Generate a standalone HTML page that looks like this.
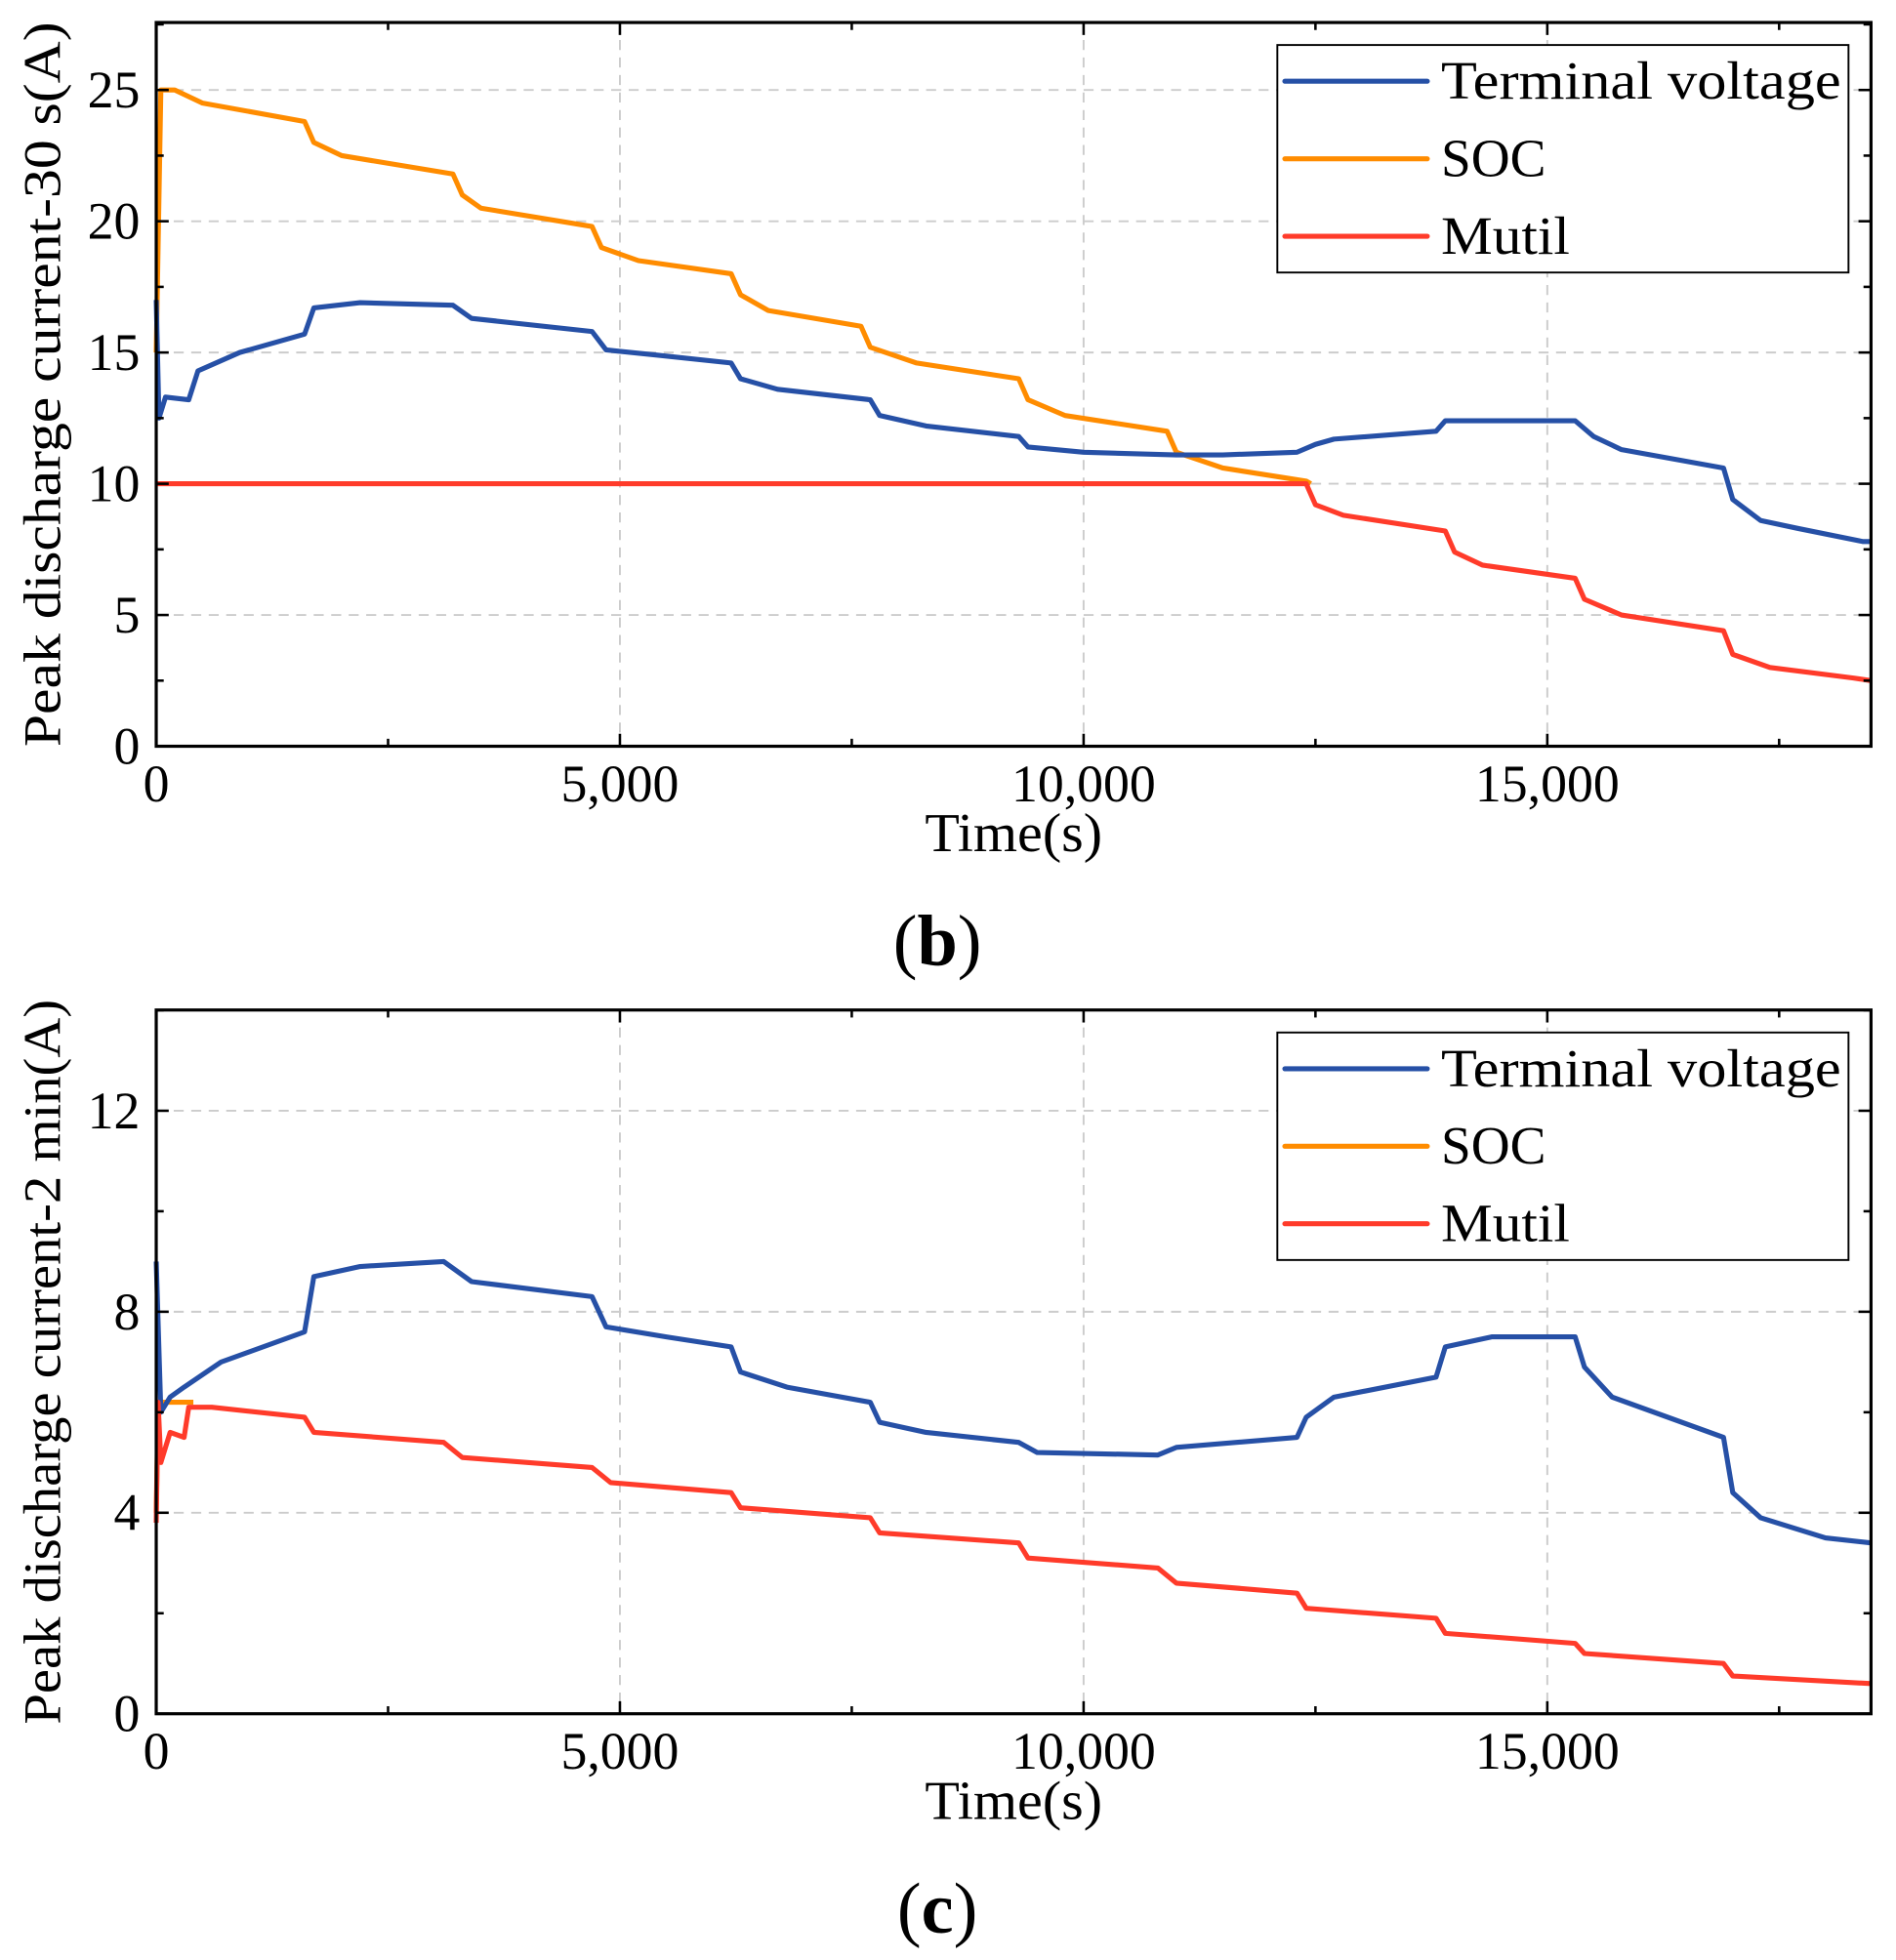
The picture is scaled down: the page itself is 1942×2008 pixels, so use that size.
<!DOCTYPE html>
<html><head><meta charset="utf-8"><style>html,body{margin:0;padding:0;background:#fff}svg{display:block}text{font-family:"Liberation Serif",serif;fill:#000}</style></head>
<body>
<svg id="s" width="1942" height="2008" viewBox="0 0 1517 1568" preserveAspectRatio="none" xmlns="http://www.w3.org/2000/svg"></svg>
<script>
const NS="http://www.w3.org/2000/svg",S=document.getElementById('s');
function el(t,a,txt){const e=document.createElementNS(NS,t);for(const k in a)e.setAttribute(k,a[k]);if(txt!==undefined)e.textContent=txt;S.appendChild(e);return e;}
const L=125,R=1497,X=t=>L+t*0.0742;
function panel(top,bot,ymax,ystep,yminor,Y,ylabel,series,tag){
  for(let v=ystep;v<=ymax+1e-9;v+=ystep){const y=Y(v);if(y>top+2)el('line',{x1:L,x2:R,y1:y,y2:y,stroke:'#ccc','stroke-width':1.5,'stroke-dasharray':'8,6'});}
  for(let t=5000;t<=15000;t+=5000)el('line',{x1:X(t),x2:X(t),y1:top,y2:bot,stroke:'#ccc','stroke-width':1.5,'stroke-dasharray':'8,6'});
  for(const [c,d] of series){let p=d.map((q,i)=>(i?'L':'M')+X(q[0]).toFixed(1)+','+Y(q[1]).toFixed(1)).join('');el('path',{d:p,fill:'none',stroke:c,'stroke-width':4,'stroke-linejoin':'round'});}
  el('rect',{x:L,y:top,width:R-L,height:bot-top,fill:'none',stroke:'#000','stroke-width':2.5});
  for(let v=0;v<=ymax+1e-9;v+=yminor){const y=Y(v),big=Math.abs(v/ystep-Math.round(v/ystep))<1e-6,l=big?10:6;
    el('line',{x1:L,x2:L+l,y1:y,y2:y,stroke:'#000','stroke-width':2});el('line',{x1:R,x2:R-l,y1:y,y2:y,stroke:'#000','stroke-width':2});
    if(big)el('text',{x:112,y:y+14,'text-anchor':'end','font-size':42},String(Math.round(v)));}
  for(let t=0;t<=18490;t+=2500){const x=X(t),l=t%5000?6:10;
    el('line',{x1:x,x2:x,y1:bot,y2:bot-l,stroke:'#000','stroke-width':2});el('line',{x1:x,x2:x,y1:top,y2:top+l,stroke:'#000','stroke-width':2});
    if(t%5000==0)el('text',{x:x,y:bot+44,'text-anchor':'middle','font-size':42},t?t.toLocaleString('en-US'):'0');}
  el('text',{x:811,y:bot+84,'text-anchor':'middle','font-size':44,textLength:142,lengthAdjust:'spacingAndGlyphs'},'Time(s)');
  el('text',{x:0,y:0,'text-anchor':'middle','font-size':42,textLength:580,lengthAdjust:'spacingAndGlyphs',transform:`translate(48,${(top+bot)/2}) rotate(-90)`},ylabel);
  const t=el('text',{x:750,y:bot+175,'text-anchor':'middle','font-size':58});t.innerHTML='(<tspan font-weight="bold">'+tag+'</tspan>)';
  const ly=top+18;el('rect',{x:1022,y:ly,width:457,height:182,fill:'#fff',stroke:'#000','stroke-width':1.5});
  [['#2650a6','Terminal voltage',320],['#ff8c00','SOC',84],['#ff3b2a','Mutil',103]].forEach((a,i)=>{const y=ly+29+i*62;
    el('line',{x1:1028,x2:1142,y1:y,y2:y,stroke:a[0],'stroke-width':4,'stroke-linecap':'round'});
    el('text',{x:1153,y:y+14,'font-size':43,textLength:a[2],lengthAdjust:'spacingAndGlyphs'},a[1]);});
}
const B='#2650a6',O='#ff8c00',Rd='#ff3b2a';
panel(18,597,27.5,5,2.5,v=>597-v*21,'Peak discharge current-30 s(A)',[
 [O,[[0,15],[50,25],[200,25],[500,24.5],[1600,23.8],[1700,23],[2000,22.5],[3200,21.8],[3300,21],[3500,20.5],[4700,19.8],[4800,19],[5200,18.5],[6200,18],[6300,17.2],[6600,16.6],[7600,16],[7700,15.2],[8200,14.6],[9300,14],[9400,13.2],[9800,12.6],[10900,12],[11000,11.2],[11500,10.6],[12400,10.1],[12450,10]]],
 [B,[[0,17],[30,12.5],[100,13.3],[350,13.2],[450,14.3],[900,15],[1600,15.7],[1700,16.7],[2200,16.9],[3200,16.8],[3400,16.3],[4700,15.8],[4850,15.1],[5400,14.9],[6200,14.6],[6300,14],[6700,13.6],[7700,13.2],[7800,12.6],[8300,12.2],[9300,11.8],[9400,11.4],[10000,11.2],[11000,11.1],[11500,11.1],[12300,11.2],[12500,11.5],[12700,11.7],[13800,12],[13900,12.4],[15300,12.4],[15500,11.8],[15800,11.3],[16900,10.6],[17000,9.4],[17300,8.6],[17700,8.3],[18400,7.8],[18490,7.8]]],
 [Rd,[[0,10],[12400,10],[12500,9.2],[12800,8.8],[13900,8.2],[14000,7.4],[14300,6.9],[15300,6.4],[15400,5.6],[15800,5.0],[16900,4.4],[17000,3.5],[17400,3.0],[18300,2.6],[18490,2.5]]]
],'b');
panel(808,1371,14,4,2,v=>1371-v*40.2,'Peak discharge current-2 min(A)',[
 [O,[[0,4],[20,6.2],[400,6.2]]],
 [B,[[0,9],[50,6],[150,6.3],[300,6.5],[700,7],[1600,7.6],[1700,8.7],[2200,8.9],[3100,9.0],[3400,8.6],[4700,8.3],[4850,7.7],[5500,7.5],[6200,7.3],[6300,6.8],[6800,6.5],[7700,6.2],[7800,5.8],[8300,5.6],[9300,5.4],[9500,5.2],[10800,5.15],[11000,5.3],[12300,5.5],[12400,5.9],[12700,6.3],[13800,6.7],[13900,7.3],[14400,7.5],[15300,7.5],[15400,6.9],[15700,6.3],[16900,5.5],[17000,4.4],[17300,3.9],[18000,3.5],[18490,3.4]]],
 [Rd,[[0,3.8],[20,6.2],[50,5.0],[150,5.6],[300,5.5],[350,6.1],[600,6.1],[1600,5.9],[1700,5.6],[3100,5.4],[3300,5.1],[4700,4.9],[4900,4.6],[6200,4.4],[6300,4.1],[7700,3.9],[7800,3.6],[9300,3.4],[9400,3.1],[10800,2.9],[11000,2.6],[12300,2.4],[12400,2.1],[13800,1.9],[13900,1.6],[15300,1.4],[15400,1.2],[16900,1.0],[17000,0.75],[18490,0.6]]]
],'c');
</script>
</body></html>
